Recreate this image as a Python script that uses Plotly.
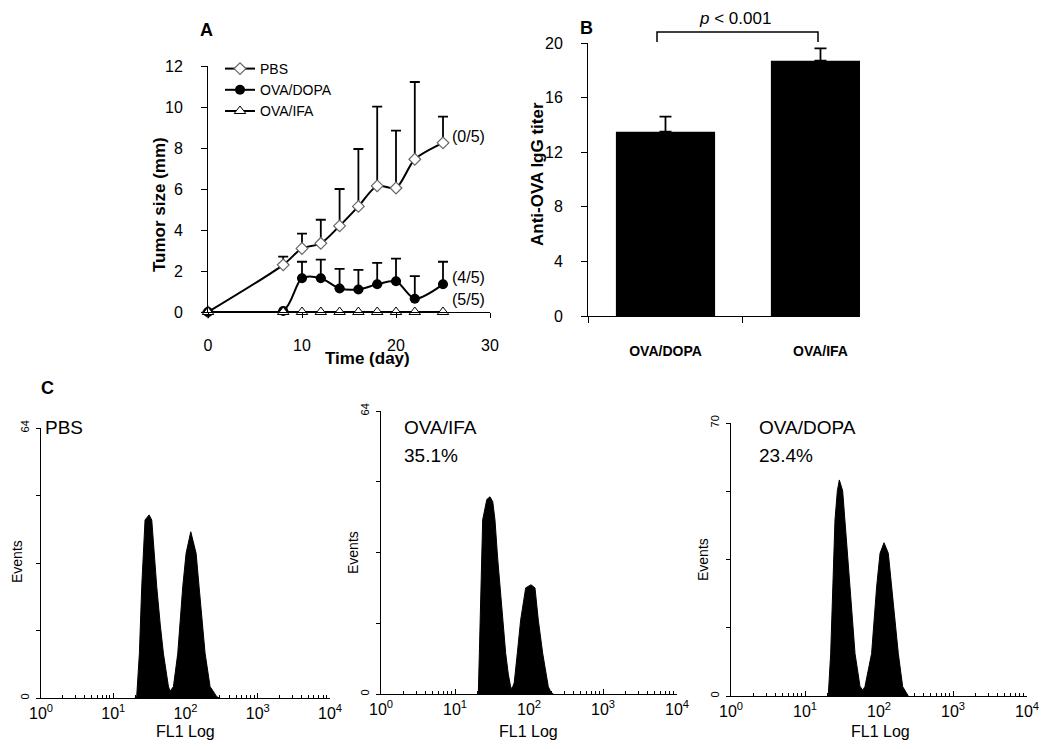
import numpy as np
import plotly.graph_objects as go

W, H = 1050, 749
OFF = 8  # the page body margin shifts the figure by this many pixels
FONT = "Arial, Liberation Sans, sans-serif"


def fx(p):
    return (p - OFF) / W


def fy(p):
    return 1 - (p - OFF) / H


# ---------------- Panel A: tumor size ----------------
days = [0, 8, 10, 12, 14, 16, 18, 20, 22, 25]
pbs_mean = [0, 2.3, 3.1, 3.35, 4.2, 5.15, 6.15, 6.05, 7.45, 8.25]
pbs_err = [0, 0.4, 0.72, 1.15, 1.8, 2.8, 3.87, 2.8, 3.77, 1.28]
dopa_mean = [0, 0.05, 1.65, 1.65, 1.15, 1.1, 1.35, 1.5, 0.65, 1.35]
dopa_err = [0, 0, 0.8, 0.9, 0.95, 0.95, 1.05, 1.1, 1.1, 1.1]
ifa_mean = [0, 0, 0, 0, 0, 0, 0, 0, 0, 0]
zero_minus = [0, 0, 0, 0, 0, 0, 0, 0, 0, 0]
a_xticks = [0, 10, 20, 30]
a_yticks = [0, 2, 4, 6, 8, 10, 12]
survivors = ["(0/5)", "(4/5)", "(5/5)"]
survivor_y = [8.55, 1.7, 0.63]

# ---------------- Panel B: anti-OVA IgG titer ----------------
groups = ["OVA/DOPA", "OVA/IFA"]
titer = [13.5, 18.7]
titer_err = [1.1, 0.9]
b_yticks = [0, 4, 8, 12, 16, 20]

# ---------------- Panel C: flow histograms (log10 FL1, events) ----------------
pbs_log = [1.30, 1.325, 1.362, 1.394, 1.44, 1.496, 1.533, 1.565, 1.602, 1.65, 1.694,
           1.763, 1.787, 1.833, 1.893, 1.962, 2.008, 2.073, 2.147, 2.188, 2.271,
           2.34, 2.433, 2.47]
pbs_events = [0, 0.5, 10.6, 26.4, 42.2, 43.4, 42.2, 34.5, 26.4, 17.5, 10.6,
              2.8, 1.6, 2.7, 10.6, 26.4, 34.3, 39.4, 34.3, 26.4, 10.6,
              2.7, 0.3, 0]

ifa_log = [1.30, 1.315, 1.329, 1.347, 1.374, 1.43, 1.473, 1.51, 1.54, 1.575, 1.608,
           1.645, 1.685, 1.72, 1.752, 1.77, 1.80, 1.842, 1.887, 1.955, 2.027,
           2.081, 2.126, 2.185, 2.261, 2.30, 2.33]
ifa_events = [0, 0.15, 9.2, 24.3, 39.4, 44.0, 44.6, 43.5, 39.4, 31.0, 24.3,
              16.0, 9.2, 4.5, 1.6, 1.2, 2.5, 9.2, 16.7, 24.0, 24.7,
              24.0, 16.7, 9.2, 1.65, 0.3, 0]

dopa_log = [1.30, 1.315, 1.347, 1.374, 1.405, 1.437, 1.464, 1.509, 1.541, 1.608,
            1.676, 1.743, 1.779, 1.81, 1.90, 1.968, 2.014, 2.068, 2.126, 2.171,
            2.261, 2.32, 2.396]
dopa_events = [0, 0.3, 10.9, 28.0, 45.1, 52.6, 55.4, 52.6, 45.1, 28.0,
               10.9, 2.5, 1.5, 2.4, 10.9, 28.0, 36.6, 39.3, 36.6, 28.0,
               10.9, 2.4, 0]

c_decades = [0, 1, 2, 3, 4]
c_decade_text = ["10<sup>0</sup>", "10<sup>1</sup>", "10<sup>2</sup>", "10<sup>3</sup>", "10<sup>4</sup>"]
c_labels = ["PBS", "OVA/IFA", "OVA/DOPA"]
c_percent = ["", "35.1%", "23.4%"]
c_ymax = [64, 64, 70]

minor_log = [d + np.log10(k) for d in range(4) for k in range(2, 10)]

fig = go.Figure()

# Panel A traces
err_style = dict(type="data", symmetric=False, thickness=1.8, width=5, color="black")
fig.add_trace(go.Scatter(
    x=days, y=pbs_mean, name="PBS", mode="lines+markers",
    line=dict(color="black", width=2, shape="spline", smoothing=0.8),
    marker=dict(symbol="diamond", size=9, color="white", line=dict(color="#666", width=1.2)),
    error_y=dict(array=pbs_err, arrayminus=zero_minus, **err_style),
    cliponaxis=False, xaxis="x", yaxis="y"))
fig.add_trace(go.Scatter(
    x=days, y=dopa_mean, name="OVA/DOPA", mode="lines+markers",
    line=dict(color="black", width=2, shape="spline", smoothing=0.8),
    marker=dict(symbol="circle", size=10, color="black"),
    error_y=dict(array=dopa_err, arrayminus=zero_minus, **err_style),
    cliponaxis=False, xaxis="x", yaxis="y"))
fig.add_trace(go.Scatter(
    x=days, y=ifa_mean, name="OVA/IFA", mode="lines+markers",
    line=dict(color="black", width=2),
    marker=dict(symbol="triangle-up", size=10, color="white", line=dict(color="black", width=1)),
    cliponaxis=False, xaxis="x", yaxis="y"))

# Panel B bars
fig.add_trace(go.Bar(
    x=[0, 1], y=titer, width=0.64, marker=dict(color="black", line=dict(width=0)),
    error_y=dict(type="data", array=titer_err, arrayminus=[0, 0], symmetric=False,
                 thickness=1.8, width=6, color="black"),
    showlegend=False, xaxis="x2", yaxis="y2"))

# Panel C histograms
for i, (lx, ev) in enumerate([(pbs_log, pbs_events), (ifa_log, ifa_events), (dopa_log, dopa_events)]):
    fig.add_trace(go.Scatter(
        x=lx, y=ev, mode="lines", fill="tozeroy", fillcolor="black",
        line=dict(color="black", width=1), showlegend=False,
        xaxis=f"x{i + 3}", yaxis=f"y{i + 3}"))


def common(size=16):
    return dict(showline=True, linecolor="black", linewidth=1, showgrid=False,
                zeroline=False, tickcolor="black", automargin=False,
                tickfont=dict(family=FONT, size=size, color="black"))


layout = dict(
    width=W, height=H, margin=dict(l=0, r=0, t=0, b=0, autoexpand=False),
    paper_bgcolor="white", plot_bgcolor="white",
    font=dict(family=FONT, color="black"),
    showlegend=True,
    legend=dict(x=fx(220), y=fy(53), xanchor="left", yanchor="top",
                bgcolor="rgba(0,0,0,0)", font=dict(family=FONT, size=14, color="black"),
                tracegroupgap=0, itemwidth=30),
    xaxis=dict(domain=[fx(208), fx(490)], range=[0, 30], tickmode="array", tickvals=a_xticks,
               ticks="outside", ticklen=5, ticklabelstandoff=14, anchor="y", **common(16)),
    yaxis=dict(domain=[fy(312), fy(66)], range=[0, 12], tickmode="array", tickvals=a_yticks,
               ticks="outside", ticklen=6, ticklabelstandoff=15, anchor="x", **common(16)),
    xaxis2=dict(domain=[fx(588), fx(860)], range=[-0.5, 1.255], tickmode="array", tickvals=[0, 1],
                ticktext=[f"<b>{g}</b>" for g in groups], ticks="", ticklabelstandoff=22,
                minor=dict(tickmode="array", tickvals=[-0.5, 0.5], ticks="outside", ticklen=6,
                           tickcolor="black"),
                anchor="y2", **common(14)),
    yaxis2=dict(domain=[fy(316), fy(43)], range=[0, 20], tickmode="array", tickvals=b_yticks,
                ticks="outside", ticklen=6, ticklabelstandoff=15, anchor="x2", **common(16)),
)

c_xdom = [(41, 330), (381, 677), (731, 1027)]
c_ydom = [(698, 428), (694, 411), (696, 423)]
for i in range(3):
    n = i + 3
    ymax = c_ymax[i]
    layout[f"xaxis{n}"] = dict(
        domain=[fx(c_xdom[i][0]), fx(c_xdom[i][1])], range=[0, 4], tickmode="array",
        tickvals=c_decades, ticktext=c_decade_text, ticks="inside", ticklen=5,
        ticklabelstandoff=1,
        minor=dict(tickmode="array", tickvals=minor_log, ticks="inside", ticklen=3, tickcolor="black"),
        anchor=f"y{n}", **common(16))
    yc = common(11)
    layout[f"yaxis{n}"] = dict(
        domain=[fy(c_ydom[i][0]), fy(c_ydom[i][1])], range=[0, ymax], tickmode="array",
        tickvals=[0, ymax / 4, ymax / 2, 3 * ymax / 4, ymax],
        ticktext=["0", "", "", "", str(ymax)], tickangle=-90, ticks="outside", ticklen=4,
        ticklabelstandoff=3, anchor=f"x{n}", **yc)

fig.update_layout(**layout)

ann = []


def add_text(text, x, y, size, bold=False, angle=0, xanchor="center"):
    t = f"<b>{text}</b>" if bold else text
    ann.append(dict(text=t, x=fx(x), y=fy(y), xref="paper", yref="paper", showarrow=False,
                    xanchor=xanchor, yanchor="middle", textangle=angle,
                    font=dict(family=FONT, size=size, color="black")))


# Panel labels
add_text("A", 206, 30, 18, bold=True)
add_text("B", 586, 28, 18, bold=True)
add_text("C", 47, 388, 18, bold=True)

# Axis titles
add_text("Tumor size (mm)", 159, 205, 17, bold=True, angle=-90)
add_text("Time (day)", 367, 358, 17, bold=True)
add_text("Anti-OVA IgG titer", 537, 174, 17, bold=True, angle=-90)
add_text("<i>p</i> &lt; 0.001", 735, 18, 17)

c_events_x = [17, 353, 703]
c_events_y = [562, 553, 560]
c_fl_x = [185, 528, 880]
c_lab_x = [43, 402, 757]
for i in range(3):
    add_text("Events", c_events_x[i], c_events_y[i], 14, angle=-90)
    add_text("FL1 Log", c_fl_x[i], 731, 16)
    add_text(c_labels[i], c_lab_x[i], 427, 19, xanchor="left")
    if c_percent[i]:
        add_text(c_percent[i], c_lab_x[i], 455, 19, xanchor="left")

# survivors annotations (data coords of panel A)
for s, yv in zip(survivors, survivor_y):
    ann.append(dict(text=s, x=25, y=yv, xref="x", yref="y", showarrow=False, xanchor="left",
                    xshift=7, font=dict(family=FONT, size=16, color="black")))

fig.update_layout(annotations=ann)

# significance bracket (paper coords)
fig.add_shape(type="path", xref="paper", yref="paper",
              path=f"M {fx(657)},{fy(42)} L {fx(657)},{fy(32)} L {fx(818)},{fy(32)} L {fx(818)},{fy(42)}",
              line=dict(color="black", width=1.5))

fig.write_html("out.html")
